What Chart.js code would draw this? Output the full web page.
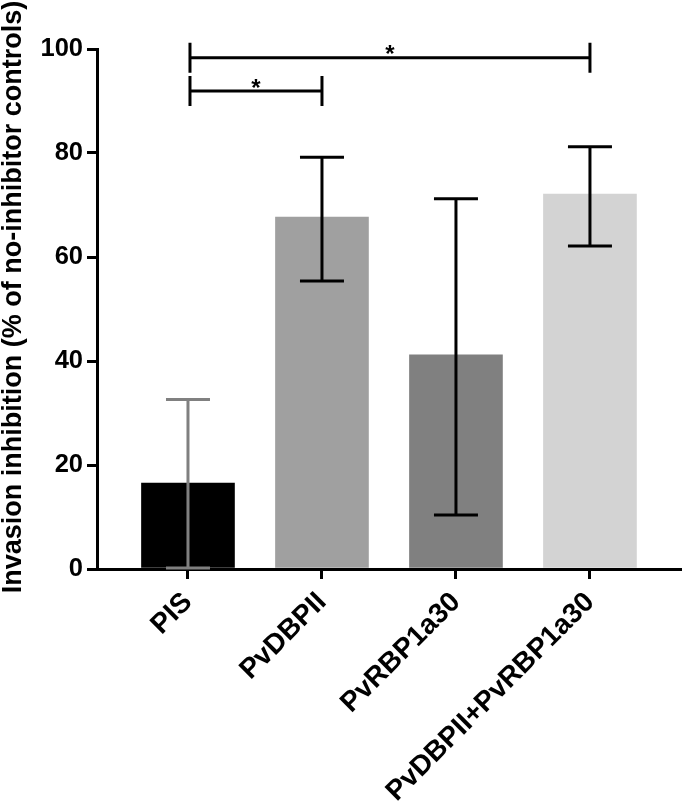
<!DOCTYPE html>
<html>
<head>
<meta charset="utf-8">
<script src="https://cdn.jsdelivr.net/npm/chart.js@4.4.1/dist/chart.umd.min.js"></script>
<style>
  body { margin: 0; background: #fff; }
  #wrap { width: 685px; height: 805px; position: relative; }
</style>
</head>
<body>
<div id="wrap"><canvas id="dis"></canvas></div>
<script>
// data
const groups = ['PIS', 'PvDBPII', 'PvRBP1a30', 'PvDBPII+PvRBP1a30'];
const means = [16.5, 67.7, 41.2, 72.1];
const errHigh = [32.6, 79.2, 71.2, 81.2];
const errLow = [0.2, 55.4, 10.4, 62.1];
const barColors = ['#000000', '#a0a0a0', '#808080', '#d3d3d3'];
const errColors = ['#808080', '#000000', '#000000', '#000000'];
const yTicks = [0, 20, 40, 60, 80, 100];
const yTitle = 'Invasion inhibition (% of no-inhibitor controls)';

// significance brackets (group index from / to, height in y units)
const sigFrom = [1, 1];
const sigTo = [2, 4];
const sigLevel = [91.9, 98.3];
const sigText = ['*', '*'];

const positions = groups.map((g, i) => i + 1);
const FONT = '"Liberation Sans", Arial, sans-serif';

const errorBars = {
  id: 'errorBars',
  afterDatasetsDraw(chart) {
    const ctx = chart.ctx;
    const xs = chart.scales.x, ys = chart.scales.y;
    ctx.save();
    ctx.lineWidth = 3;
    positions.forEach((p, i) => {
      const x = xs.getPixelForValue(p);
      const top = ys.getPixelForValue(errHigh[i]);
      const bot = ys.getPixelForValue(errLow[i]);
      ctx.strokeStyle = errColors[i];
      ctx.beginPath();
      ctx.moveTo(x, top); ctx.lineTo(x, bot);
      ctx.moveTo(x - 22, top); ctx.lineTo(x + 22, top);
      ctx.moveTo(x - 22, bot); ctx.lineTo(x + 22, bot);
      ctx.stroke();
    });
    ctx.restore();
  }
};

const brackets = {
  id: 'brackets',
  afterDraw(chart) {
    const ctx = chart.ctx;
    const xs = chart.scales.x, ys = chart.scales.y;
    ctx.save();
    ctx.lineWidth = 3;
    ctx.strokeStyle = '#000';
    ctx.fillStyle = '#000';
    ctx.font = 'bold 24px ' + FONT;
    ctx.textAlign = 'center';
    ctx.textBaseline = 'middle';
    sigFrom.forEach((f, i) => {
      const x1 = xs.getPixelForValue(f) + 2;
      const x2 = xs.getPixelForValue(sigTo[i]);
      const y = ys.getPixelForValue(sigLevel[i]);
      ctx.beginPath();
      ctx.moveTo(x1, y); ctx.lineTo(x2, y);
      ctx.moveTo(x1, y - 15); ctx.lineTo(x1, y + 15);
      ctx.moveTo(x2, y - 15); ctx.lineTo(x2, y + 15);
      ctx.stroke();
      ctx.fillText(sigText[i], (x1 + x2) / 2, y - 2);
    });
    ctx.restore();
  }
};

// y axis title, drawn a bit above the plot centre like the original
const axisTitle = {
  id: 'axisTitle',
  afterDraw(chart) {
    const ctx = chart.ctx;
    const area = chart.chartArea;
    ctx.save();
    ctx.translate(14, (area.top + area.bottom) / 2 - 12);
    ctx.rotate(-Math.PI / 2);
    ctx.fillStyle = '#000';
    ctx.font = 'bold 27px ' + FONT;
    ctx.textAlign = 'center';
    ctx.textBaseline = 'middle';
    ctx.fillText(yTitle, 0, 0);
    ctx.restore();
  }
};

window.onload = function() {
  const ctx = document.querySelector('#dis');

  const chartData = {
    datasets: [{
      data: positions.map((p, i) => ({ x: p, y: means[i] })),
      backgroundColor: barColors,
      borderWidth: 0,
      barThickness: 93
    }]
  };

  new Chart(ctx, {
    type: 'bar',
    data: chartData,
    plugins: [errorBars, brackets, axisTitle],
    options: {
      responsive: true,
      maintainAspectRatio: false,
      animation: false,
      layout: { padding: { top: 49, right: 5, left: 0, bottom: 0 } },
      plugins: { legend: { display: false }, tooltip: { enabled: false } },
      scales: {
        x: {
          type: 'linear',
          offset: false,
          min: 0.321,
          max: 4.672,
          afterBuildTicks: axis => { axis.ticks = positions.map(v => ({ value: v })); },
          afterFit: scale => { scale.height = 236; },
          ticks: {
            autoSkip: false,
            minRotation: 45,
            maxRotation: 45,
            padding: 7,
            color: '#000',
            font: { family: FONT, size: 28, weight: 'bold' },
            callback: v => groups[v - 1]
          },
          grid: {
            offset: false,
            drawOnChartArea: false,
            drawTicks: true,
            tickLength: 10,
            color: '#000',
            lineWidth: 3
          },
          border: { display: true, color: '#000', width: 3 }
        },
        y: {
          min: 0,
          max: 100,
          afterBuildTicks: axis => { axis.ticks = yTicks.map(v => ({ value: v })); },
          afterFit: scale => { scale.width = 97; },
          ticks: {
            padding: 4,
            color: '#000',
            font: { family: FONT, size: 25.5, weight: 'bold' }
          },
          grid: {
            drawOnChartArea: false,
            drawTicks: true,
            tickLength: 10,
            color: '#000',
            lineWidth: 3
          },
          border: { display: true, color: '#000', width: 3 }
        }
      }
    }
  });
}; //end window onload
</script>
</body>
</html>
